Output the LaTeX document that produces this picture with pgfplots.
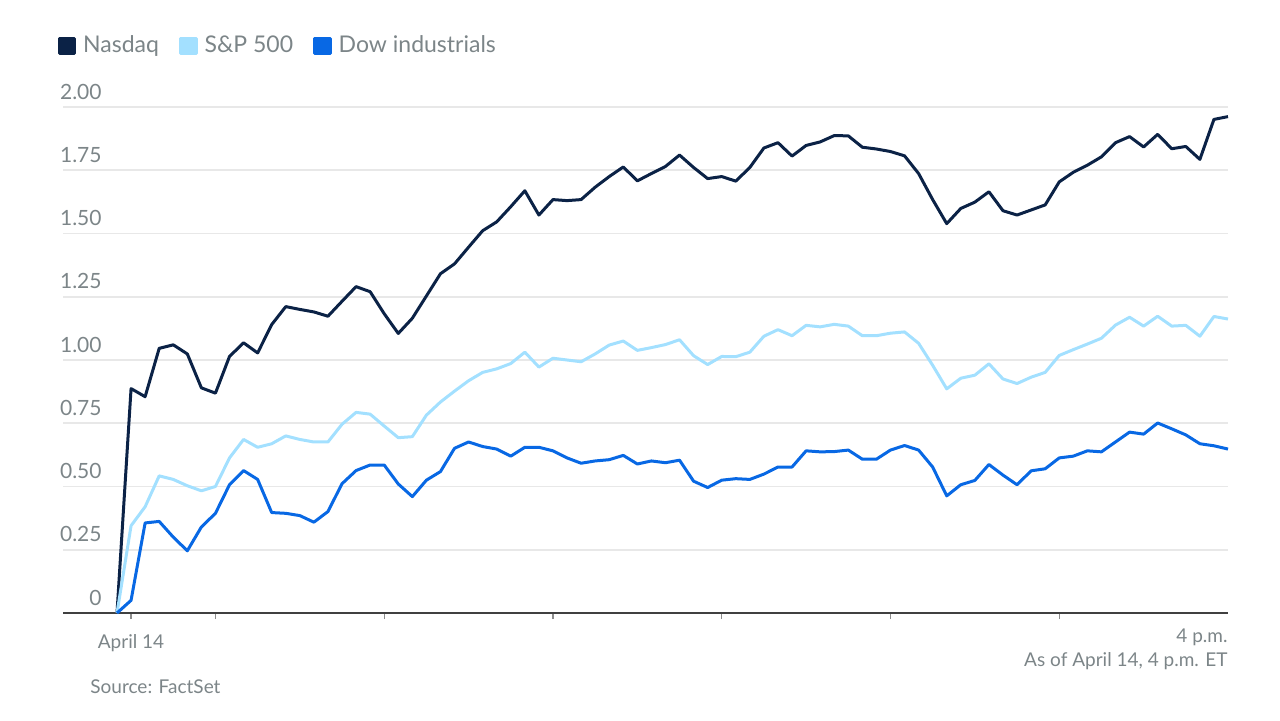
\documentclass[border=0pt]{standalone}
\usepackage{pgfplots}
\pgfplotsset{compat=1.18}
\usepackage{fontspec}
\setmainfont{Lato}
\definecolor{nasdaq}{HTML}{0B2246}
\definecolor{spx}{HTML}{A3E0FF}
\definecolor{dow}{HTML}{0868E4}
\definecolor{txt}{HTML}{7C8588}
\definecolor{gridc}{HTML}{E8E8E8}
\begin{document}
\begin{tikzpicture}
\useasboundingbox (0pt,0pt) rectangle (640pt,360pt);
\begin{axis}[
  at={(31.5pt,53.5pt)}, anchor=south west,
  scale only axis, width=582.5pt, height=253pt,
  xmin=-4.84, xmax=78, ymin=0, ymax=2,
  axis x line=bottom, axis y line=left,
  x axis line style={draw=black!75, line width=1pt, -},
  y axis line style={draw=none},
  ytick={0,0.25,0.5,0.75,1,1.25,1.5,1.75,2},
  yticklabels={0,0.25,0.50,0.75,1.00,1.25,1.50,1.75,2.00},
  xmajorgrids=false, ymajorgrids=true, grid style={draw=gridc, line width=0.8pt},
  major y tick style={draw=none},
  yticklabel style={anchor=base east, inner sep=0pt, xshift=22.5pt, yshift=4pt, font=\fontsize{10.5}{12}\selectfont, text=txt},
  xtick={0,6,18,30,42,54,66},
  xticklabels={April 14,,,,,,},
  major x tick style={draw=black!45, line width=0.6pt},
  major tick length=3pt,
  tick align=outside,
  xticklabel style={anchor=north, inner sep=0pt, yshift=-7.5pt, font=\fontsize{9.5}{11}\selectfont, text=txt},
  extra x ticks={78}, extra x tick labels={4 p.m.},
  extra x tick style={grid=none, major tick length=0pt, xticklabel style={anchor=north east}},
  /pgf/number format/assume math mode=true,
  legend columns=3,
  legend style={at={(-0.005,1.145)}, anchor=north west, draw=none, fill=none, inner sep=0pt,
    font=\fontsize{11.5}{13}\selectfont, text=txt,
    /tikz/every even column/.append style={column sep=6.5pt},
    nodes={inner xsep=3.5pt, inner ysep=1pt}},
  legend image code/.code={\fill[#1] (0pt,-3.9pt) rectangle (7.8pt,3.9pt);},
  clip=false,
]
\addplot[nasdaq, line width=1.5pt, line join=round] table {
x y
-1 0
0 0.887
1 0.855
2 1.046
3 1.060
4 1.024
5 0.890
6 0.869
7 1.014
8 1.068
9 1.028
10 1.140
11 1.211
12 1.200
13 1.190
14 1.173
15 1.232
16 1.290
17 1.270
18 1.183
19 1.105
20 1.165
21 1.253
22 1.341
23 1.380
24 1.446
25 1.511
26 1.546
27 1.606
28 1.669
29 1.573
30 1.634
31 1.630
32 1.634
33 1.683
34 1.725
35 1.763
36 1.708
37 1.737
38 1.765
39 1.810
40 1.761
41 1.717
42 1.725
43 1.707
44 1.761
45 1.838
46 1.859
47 1.806
48 1.848
49 1.862
50 1.887
51 1.886
52 1.841
53 1.834
54 1.824
55 1.807
56 1.737
57 1.634
58 1.539
59 1.599
60 1.624
61 1.665
62 1.590
63 1.573
64 1.593
65 1.613
66 1.704
67 1.742
68 1.770
69 1.803
70 1.859
71 1.883
72 1.842
73 1.892
74 1.835
75 1.844
76 1.793
77 1.951
78 1.962
};
\addlegendentry{Nasdaq}
\addplot[spx, line width=1.5pt, line join=round] table {
x y
-1 0
0 0.345
1 0.420
2 0.542
3 0.528
4 0.503
5 0.483
6 0.500
7 0.613
8 0.686
9 0.655
10 0.669
11 0.700
12 0.686
13 0.676
14 0.676
15 0.746
16 0.793
17 0.786
18 0.739
19 0.693
20 0.697
21 0.782
22 0.834
23 0.877
24 0.918
25 0.951
26 0.965
27 0.986
28 1.031
29 0.972
30 1.007
31 1.000
32 0.993
33 1.024
34 1.059
35 1.075
36 1.038
37 1.049
38 1.061
39 1.080
40 1.017
41 0.982
42 1.014
43 1.013
44 1.031
45 1.094
46 1.120
47 1.096
48 1.137
49 1.131
50 1.141
51 1.134
52 1.096
53 1.096
54 1.106
55 1.111
56 1.066
57 0.979
58 0.886
59 0.928
60 0.940
61 0.985
62 0.925
63 0.907
64 0.932
65 0.951
66 1.018
67 1.041
68 1.063
69 1.086
70 1.138
71 1.169
72 1.134
73 1.173
74 1.134
75 1.137
76 1.094
77 1.172
78 1.162
};
\addlegendentry{S\&P 500}
\addplot[dow, line width=1.5pt, line join=round] table {
x y
-1 0
0 0.050
1 0.356
2 0.362
3 0.300
4 0.246
5 0.340
6 0.394
7 0.507
8 0.563
9 0.528
10 0.397
11 0.394
12 0.385
13 0.359
14 0.401
15 0.511
16 0.563
17 0.585
18 0.585
19 0.510
20 0.460
21 0.525
22 0.559
23 0.651
24 0.676
25 0.658
26 0.648
27 0.620
28 0.655
29 0.655
30 0.641
31 0.613
32 0.592
33 0.601
34 0.606
35 0.623
36 0.589
37 0.601
38 0.594
39 0.604
40 0.521
41 0.496
42 0.525
43 0.531
44 0.528
45 0.549
46 0.577
47 0.577
48 0.641
49 0.637
50 0.638
51 0.644
52 0.608
53 0.608
54 0.644
55 0.662
56 0.644
57 0.577
58 0.463
59 0.507
60 0.524
61 0.587
62 0.545
63 0.507
64 0.562
65 0.570
66 0.613
67 0.620
68 0.641
69 0.637
70 0.676
71 0.715
72 0.707
73 0.751
74 0.728
75 0.704
76 0.669
77 0.661
78 0.648
};
\addlegendentry{Dow industrials}
\end{axis}
\node[anchor=east, inner sep=0pt, text=txt, font=\fontsize{9.5}{11}\selectfont] at (614pt,29.5pt) {As of April 14, 4 p.m. ET};
\node[anchor=west, inner sep=0pt, text=txt, font=\fontsize{9.5}{11}\selectfont] at (45pt,16.5pt) {Source: FactSet};
\end{tikzpicture}
\end{document}
